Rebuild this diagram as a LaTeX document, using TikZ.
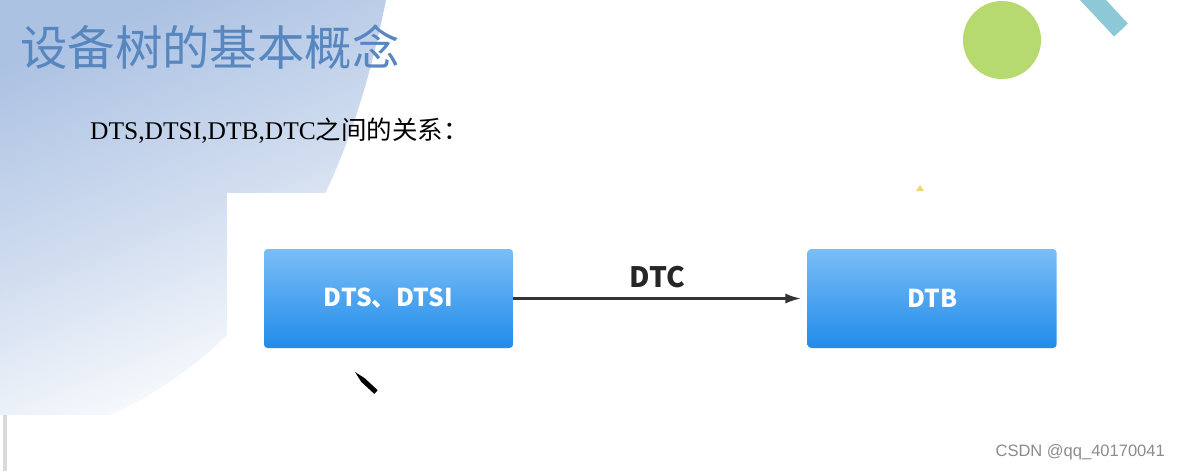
\documentclass[tikz,border=0pt]{standalone}
\usepackage{fontspec}
\setmainfont{Liberation Serif}
\newfontfamily\cjk{Noto Sans CJK SC}
\newfontfamily\wmfont{Liberation Sans}
\usetikzlibrary{arrows.meta, positioning}

\definecolor{bgblue}{RGB}{172,194,227}
\definecolor{titleblue}{RGB}{88,135,192}
\definecolor{boxtop}{RGB}{122,190,246}
\definecolor{boxbottom}{RGB}{32,139,234}
\definecolor{leafgreen}{RGB}{182,217,112}
\definecolor{barteal}{RGB}{140,200,214}
\definecolor{sunyellow}{RGB}{246,214,110}

\begin{document}
\begin{tikzpicture}[
    x=0.02cm, y=-0.02cm,
    >={Latex[length=9pt,width=5.8pt]},
    box/.style={
        rectangle,
        rounded corners=2pt,
        minimum height=1.98cm,
        minimum width=4.98cm,
        top color=boxtop,
        bottom color=boxbottom,
        text=white,
        font=\cjk\bfseries\fontsize{14pt}{16pt}\selectfont
    },
    arrow/.style={->, line width=1.4pt, draw=black!80}
]
\useasboundingbox (0,0) rectangle (1186,471);

% background
\shade[top color=bgblue, bottom color=white, middle color=bgblue!55, shading angle=22]
    (0,0) -- (386,0) .. controls (360,130) and (300,330) .. (110,415) -- (0,415) -- cycle;
\fill[white] (227,193) rectangle (1186,471);
\fill[black!15] (3,415) rectangle (7,471);

% decorations
\fill[leafgreen] (1002,40) circle [radius=0.78cm];
\draw[barteal, line width=0.38cm] (1078,-16) -- (1121,30);
\fill[sunyellow] (916,191) -- (924,191) -- (920,185) -- cycle;

% texts
\node[anchor=west, text=titleblue, font=\cjk\fontsize{27pt}{30pt}\selectfont] (title) at (14,47) {设备树的基本概念};
\node[anchor=west, font=\fontsize{14.5pt}{17pt}\selectfont] (sub) at (84,131)
    {DTS,DTSI,DTB,DTC{\cjk 之间的关系：}};

% diagram
\node[box] (src) at (388.5,298.5) {DTS、DTSI};
\node[box, right=5.88cm of src] (dtb) {DTB};
\draw[arrow] (src.east) -- node[above=2pt, text=black!85, font=\cjk\bfseries\fontsize{16pt}{18pt}\selectfont] (dtc) {DTC} ([xshift=-3.5pt]dtb.west);

% pen cursor
\fill[black] (355,372) -- (364.7,378.2) -- (377.7,390.2) -- (374.3,393.9) -- (361.3,381.9) -- cycle;

\node[anchor=east, text=black!45, font=\wmfont\fontsize{9.4pt}{11pt}\selectfont] (mark) at (1171,452) {CSDN @qq\_40170041};
\end{tikzpicture}
\end{document}
